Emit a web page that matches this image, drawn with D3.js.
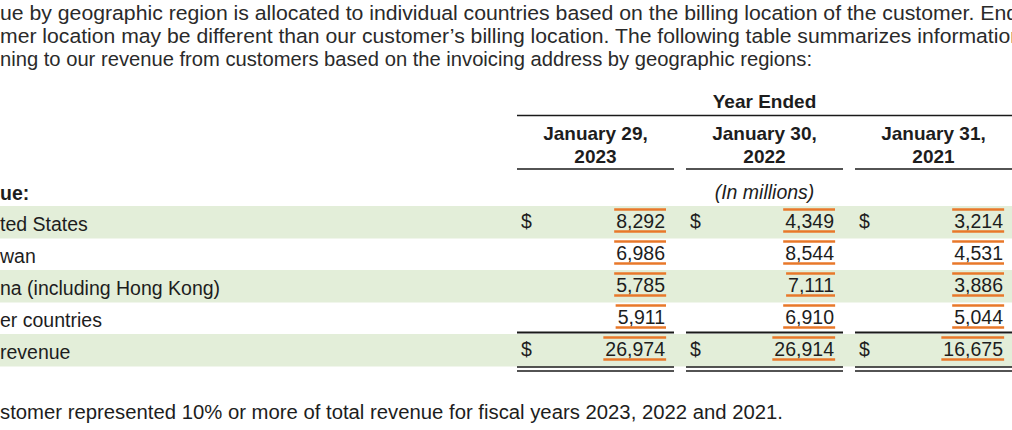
<!DOCTYPE html>
<html>
<head>
<meta charset="utf-8">
<script src="https://cdn.jsdelivr.net/npm/d3@7"></script>
<style>
  body { margin: 0; background: #fff; }
  svg { display: block; font-family: "Liberation Sans", Arial, sans-serif; fill: #1d1d1d; }
  .para { font-family: "Liberation Sans Narrow", "Liberation Sans", Arial, sans-serif; font-size: 20.5px; fill: #2a2a2a; }
  .cell { font-size: 19.5px; }
  .head { font-size: 19px; font-weight: bold; }
  .rule { stroke: #1a1a1a; }
  .mark { stroke: #e8782a; stroke-width: 2.6; }
</style>
</head>
<body>
<script>
var w = 1012;
var h = 430;

// text above the table (cropped at both sides in the source)
var introLines = [
  "ue by geographic region is allocated to individual countries based on the billing location of the customer. End",
  "mer location may be different than our customer\u2019s billing location. The following table summarizes information",
  "ning to our revenue from customers based on the invoicing address by geographic regions:"
];
var footnote = "stomer represented 10% or more of total revenue for fiscal years 2023, 2022 and 2021.";

var sectionLabel = "ue:";
var groupLabel = "Year Ended";
var unitLabel = "(In millions)";
var headDate = ["January 29,", "January 30,", "January 31,"];
var headYear = ["2023", "2022", "2021"];

var regions = ["ted States", "wan", "na (including Hong Kong)", "er countries"];
var totalLabel = "revenue";

var rev2023 = [8292, 6986, 5785, 5911];
var rev2022 = [4349, 8544, 7111, 6910];
var rev2021 = [3214, 4531, 3886, 5044];
var totals = [26974, 26914, 16675];

var columns = [rev2023, rev2022, rev2021];
var rowLabels = regions.concat([totalLabel]);
var fmt = d3.format(",");

var svg = d3.select("body").append("svg")
  .attr("width", w)
  .attr("height", h);

// columns: three blocks under "Year Ended"
var x = d3.scaleBand()
  .domain(d3.range(columns.length))
  .range([517, w])
  .paddingInner(0.071);

// rows: 4 regions + total
var y = d3.scaleBand()
  .domain(d3.range(rowLabels.length))
  .range([206, 366]);

// intro paragraph, squeezed to the widths seen in the picture
var introLen = [1018, 1022, 812];
svg.selectAll(".para")
  .data(introLines)
  .enter()
    .append("text")
    .classed("para", true)
    .attr("x", 0)
    .attr("y", (d, i) => 20 + i * 23)
    .attr("textLength", (d, i) => introLen[i])
    .attr("lengthAdjust", "spacingAndGlyphs")
    .text((d) => d);

// green stripes on every other row
svg.selectAll(".band")
  .data(d3.range(rowLabels.length).filter((i) => i % 2 === 0))
  .enter()
    .append("rect")
    .classed("band", true)
    .attr("x", 0)
    .attr("y", (d) => y(d))
    .attr("width", w)
    .attr("height", y.bandwidth() + 0.5)
    .attr("fill", "#e3eed9");

// headers
svg.append("text")
  .classed("head", true)
  .attr("x", (x(0) + x(2) + x.bandwidth()) / 2)
  .attr("y", 108)
  .attr("text-anchor", "middle")
  .text(groupLabel);

svg.append("line")
  .classed("rule", true)
  .attr("x1", x(0)).attr("x2", w)
  .attr("y1", 115.5).attr("y2", 115.5)
  .attr("stroke-width", 1.6);

var heads = svg.selectAll(".colhead")
  .data(d3.range(columns.length))
  .enter()
    .append("g")
    .classed("colhead", true);

heads.append("text")
  .classed("head", true)
  .attr("x", (d) => x(d) + x.bandwidth() / 2)
  .attr("y", 140)
  .attr("text-anchor", "middle")
  .text((d) => headDate[d]);

heads.append("text")
  .classed("head", true)
  .attr("x", (d) => x(d) + x.bandwidth() / 2)
  .attr("y", 163)
  .attr("text-anchor", "middle")
  .text((d) => headYear[d]);

// rules per column: under header, above total, double under total
var rules = [
  {y: 169, sw: 1.6},
  {y: 332.5, sw: 2},
  {y: 367, sw: 1.7},
  {y: 371, sw: 1.7}
];
rules.forEach((r) => {
  svg.selectAll(null)
    .data(d3.range(columns.length))
    .enter()
      .append("line")
      .classed("rule", true)
      .attr("x1", (d) => x(d))
      .attr("x2", (d) => x(d) + x.bandwidth())
      .attr("y1", r.y)
      .attr("y2", r.y)
      .attr("stroke-width", r.sw);
});

svg.append("text")
  .classed("cell", true)
  .attr("x", (x(0) + x(2) + x.bandwidth()) / 2)
  .attr("y", 199)
  .attr("text-anchor", "middle")
  .style("font-style", "italic")
  .text(unitLabel);

svg.append("text")
  .classed("cell", true)
  .attr("x", 0)
  .attr("y", 200)
  .style("font-weight", "bold")
  .text(sectionLabel);

// row labels
svg.selectAll(".label")
  .data(rowLabels)
  .enter()
    .append("text")
    .classed("cell", true)
    .classed("label", true)
    .attr("x", 0)
    .attr("y", (d, i) => y(i) + 25)
    .text((d) => d);

// numbers, one group per column
var cells = [];
columns.forEach((col, c) => {
  col.forEach((v, r) => cells.push({c: c, r: r, v: v}));
  cells.push({c: c, r: regions.length, v: totals[c]});
});

var cell = svg.selectAll(".num")
  .data(cells)
  .enter()
    .append("g")
    .classed("num", true);

// dollar sign on first and total rows only
cell.filter((d) => d.r === 0 || d.r === regions.length)
  .append("text")
  .classed("cell", true)
  .attr("x", (d) => x(d.c) + 4)
  .attr("y", (d) => y(d.r) + 22)
  .text("$");

cell.append("text")
  .classed("cell", true)
  .classed("val", true)
  .attr("x", (d) => x(d.c) + x.bandwidth() - 9)
  .attr("y", (d) => y(d.r) + 22)
  .attr("text-anchor", "end")
  .text((d) => fmt(d.v));

// orange highlight marks above and below every number
cell.each(function(d) {
  var g = d3.select(this);
  var bb = g.select(".val").node().getBBox();
  var base = y(d.r) + 22;
  [-18.5, 3.5].forEach((dy) => {
    g.append("line")
      .classed("mark", true)
      .attr("x1", bb.x - 2)
      .attr("x2", bb.x + bb.width + 1)
      .attr("y1", base + dy)
      .attr("y2", base + dy);
  });
});

svg.append("text")
  .classed("cell", true)
  .attr("x", 0)
  .attr("y", 419)
  .attr("textLength", 783)
  .attr("lengthAdjust", "spacingAndGlyphs")
  .text(footnote);
</script>
</body>
</html>
